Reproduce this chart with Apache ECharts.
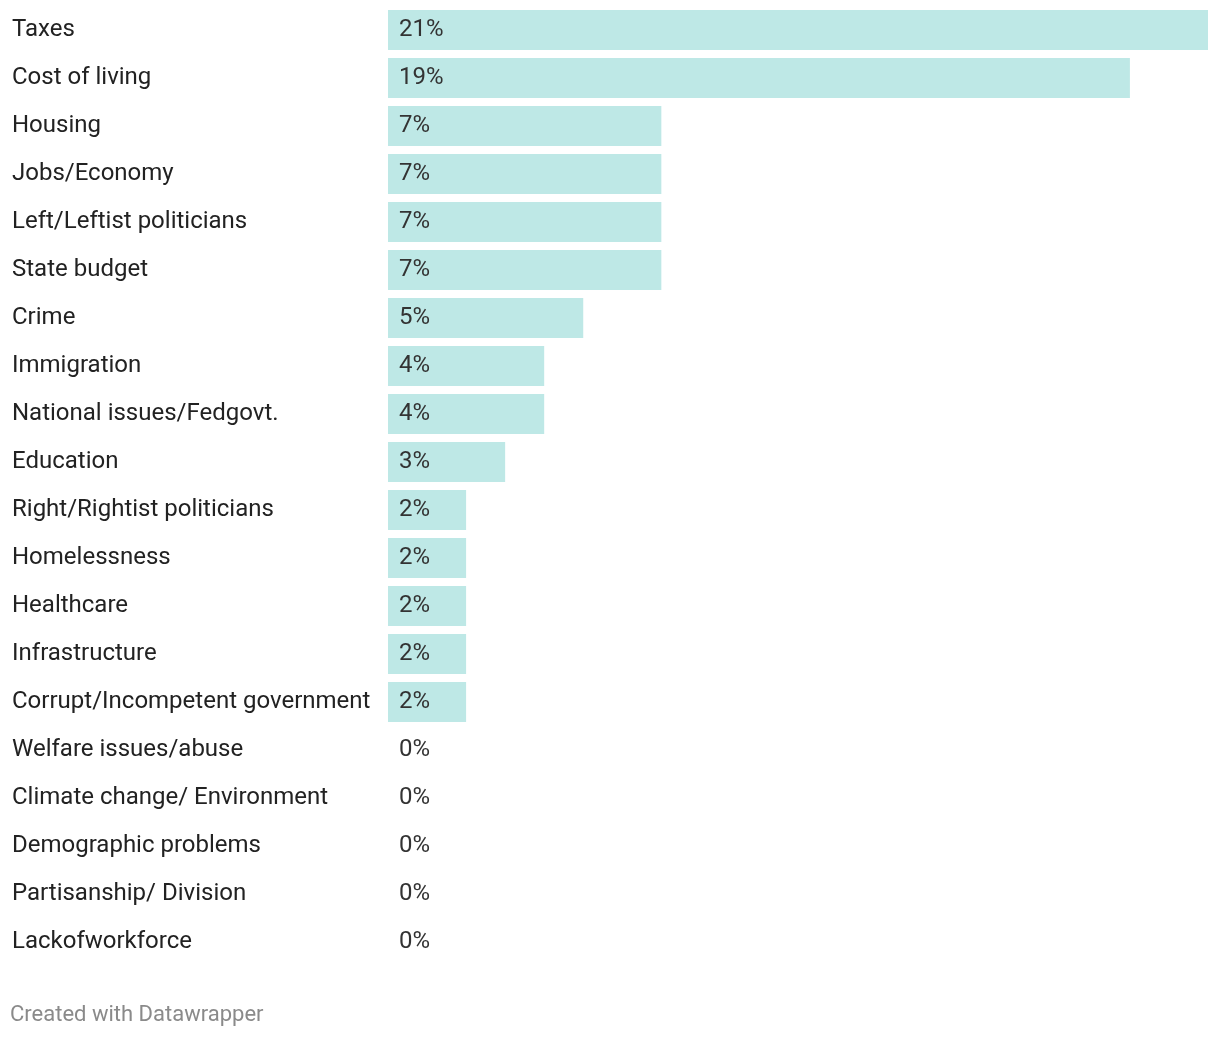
<!DOCTYPE html>
<html>
<head>
<meta charset="utf-8">
<script src="https://cdn.jsdelivr.net/npm/echarts@6/dist/echarts.min.js"></script>
<style>
html,body{margin:0;padding:0;background:#fff;}
#chart{width:1220px;height:1038px;}
</style>
</head>
<body>
<div id="chart"></div>
<script>
const categories = ["Taxes","Cost of living","Housing","Jobs/Economy","Left/Leftist politicians","State budget","Crime","Immigration","National issues/Fedgovt.","Education","Right/Rightist politicians","Homelessness","Healthcare","Infrastructure","Corrupt/Incompetent government","Welfare issues/abuse","Climate change/ Environment","Demographic problems","Partisanship/ Division","Lackofworkforce"];
const values = [21,19,7,7,7,7,5,4,4,3,2,2,2,2,2,0,0,0,0,0];
const footer = "Created with Datawrapper";

const chart = echarts.init(document.getElementById('chart'));
chart.setOption({
  animation: false,
  backgroundColor: '#ffffff',
  textStyle: { fontFamily: 'Roboto' },
  graphic: [{
    type: 'text', left: 10, top: 1004,
    style: { text: footer, fontFamily: 'Roboto', fontSize: 22, fill: '#8a8a8a' }
  }],
  grid: { left: 388, right: 12, top: 6, height: 960, containLabel: false },
  xAxis: { type: 'value', min: 0, max: 21, show: false },
  yAxis: {
    type: 'category', data: categories, inverse: true,
    axisLine: { show: false }, axisTick: { show: false }, splitLine: { show: false },
    axisLabel: { align: 'left', margin: 376, fontFamily: 'Roboto', fontSize: 24, color: '#222222', padding: [7, 0, 0, 0] }
  },
  series: [{
    type: 'bar', data: values, barWidth: 40,
    itemStyle: { color: '#bee8e6' },
    label: {
      show: true, position: 'insideLeft', distance: 11,
      formatter: p => p.value + '%',
      fontFamily: 'Roboto', fontSize: 24, color: '#333333', padding: [7, 0, 0, 0]
    }
  }]
});
</script>
</body>
</html>
